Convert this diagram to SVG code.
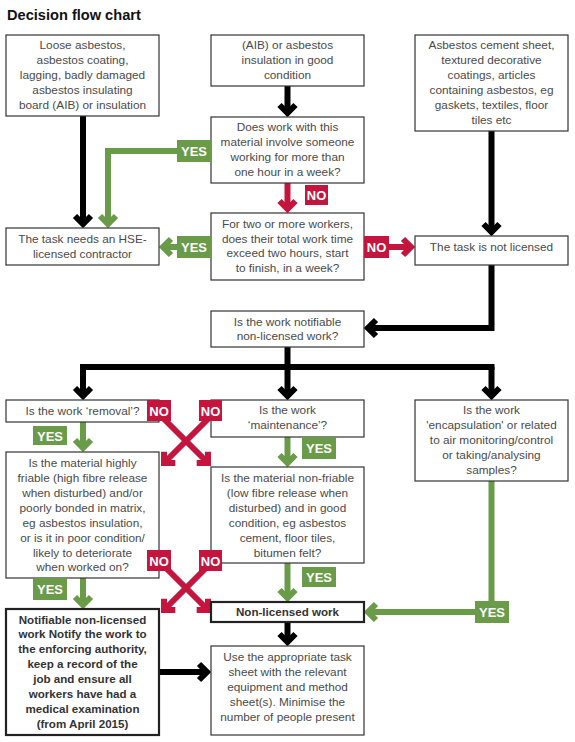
<svg xmlns="http://www.w3.org/2000/svg" width="575" height="742" viewBox="0 0 575 742">
<style>
.box{fill:#fff;stroke:#333;stroke-width:1.2}
.boxb{fill:#fff;stroke:#222;stroke-width:2.2}
.t{font-family:"Liberation Sans",Arial,sans-serif;font-size:11.8px;fill:#4a4a4a;text-anchor:middle}
.tb{font-family:"Liberation Sans",Arial,sans-serif;font-size:11.6px;font-weight:bold;fill:#333;text-anchor:middle}
.title{font-family:"Liberation Sans",Arial,sans-serif;font-size:14.6px;font-weight:bold;fill:#111}
.ck{fill:none;stroke:#000;stroke-width:6;stroke-linejoin:miter}
.cg{fill:none;stroke:#6a9b48;stroke-width:6;stroke-linejoin:miter}
.cr{fill:none;stroke:#c4153f;stroke-width:6;stroke-linejoin:miter}
.lg{fill:#6a9b48}
.lr{fill:#c4153f}
.lt{font-family:"Liberation Sans",Arial,sans-serif;font-size:13px;font-weight:bold;fill:#fff;text-anchor:middle}
</style>
<defs>
<marker id="ak" markerUnits="userSpaceOnUse" orient="auto" overflow="visible" viewBox="-12 -12 24 24" markerWidth="24" markerHeight="24" refX="0" refY="0"><path d="M-8,-8 L0,0 L-8,8" class="ck"/></marker>
<marker id="ag" markerUnits="userSpaceOnUse" orient="auto" overflow="visible" viewBox="-12 -12 24 24" markerWidth="24" markerHeight="24" refX="0" refY="0"><path d="M-8,-8 L0,0 L-8,8" class="cg"/></marker>
<marker id="ar" markerUnits="userSpaceOnUse" orient="auto" overflow="visible" viewBox="-12 -12 24 24" markerWidth="24" markerHeight="24" refX="0" refY="0"><path d="M-8,-8 L0,0 L-8,8" class="cr"/></marker>
</defs>
<rect width="575" height="742" fill="#fff"/>
<text class="title" x="7" y="20">Decision flow chart</text>

<g id="connectors">
<path class="ck" d="M83,116 V224" marker-end="url(#ak)"/>
<path class="ck" d="M287.5,86 V113" marker-end="url(#ak)"/>
<path class="ck" d="M491.5,131 V232" marker-end="url(#ak)"/>
<path class="ck" d="M491.5,265 V328 H368" marker-end="url(#ak)"/>
<path class="ck" d="M287.5,347 V367"/>
<path class="ck" d="M80,367 H494.5"/>
<path class="ck" d="M83,367 V396" marker-end="url(#ak)"/>
<path class="ck" d="M287.5,367 V396" marker-end="url(#ak)"/>
<path class="ck" d="M491.5,367 V396" marker-end="url(#ak)"/>
<path class="ck" d="M287.5,622 V642" marker-end="url(#ak)"/>
<path class="ck" d="M159,672 H207" marker-end="url(#ak)"/>

<path class="cg" d="M180,151 H108 V224" marker-end="url(#ag)"/>
<path class="cg" d="M180,247 H163" marker-end="url(#ag)"/>
<path class="cg" d="M83,422 V448" marker-end="url(#ag)"/>
<path class="cg" d="M287.5,437 V463" marker-end="url(#ag)"/>
<path class="cg" d="M83,578 V605" marker-end="url(#ag)"/>
<path class="cg" d="M287.5,563 V598" marker-end="url(#ag)"/>
<path class="cg" d="M491.5,481 V612 H368" marker-end="url(#ag)"/>

<path class="cr" d="M287.5,183 V209" marker-end="url(#ar)"/>
<path class="cr" d="M385,247 H411" marker-end="url(#ar)"/>
<path class="cr" d="M156,411 L208,463" marker-end="url(#ar)"/>
<path class="cr" d="M216,411 L164,463" marker-end="url(#ar)"/>
<path class="cr" d="M156,558 L208,610" marker-end="url(#ar)"/>
<path class="cr" d="M216,558 L164,610" marker-end="url(#ar)"/>
</g>

<g id="n1"><rect class="box" x="6" y="35" width="153" height="81"/>
<text class="t" x="82.5" y="49">Loose asbestos,</text><text class="t" x="82.5" y="64">asbestos coating,</text><text class="t" x="82.5" y="79">lagging, badly damaged</text><text class="t" x="82.5" y="94">asbestos insulating</text><text class="t" x="82.5" y="109">board (AIB) or insulation</text></g>

<g id="n2"><rect class="box" x="211" y="35" width="153" height="51"/>
<text class="t" x="287.5" y="49">(AIB) or asbestos</text><text class="t" x="287.5" y="64">insulation in good</text><text class="t" x="287.5" y="79">condition</text></g>

<g id="n3"><rect class="box" x="415" y="35" width="153" height="96"/>
<text class="t" x="491.5" y="49">Asbestos cement sheet,</text><text class="t" x="491.5" y="64">textured decorative</text><text class="t" x="491.5" y="79">coatings, articles</text><text class="t" x="491.5" y="94">containing asbestos, eg</text><text class="t" x="491.5" y="109">gaskets, textiles, floor</text><text class="t" x="491.5" y="124">tiles etc</text></g>

<g id="n4"><rect class="box" x="211" y="117" width="153" height="66"/>
<text class="t" x="287.5" y="131">Does work with this</text><text class="t" x="287.5" y="146">material involve someone</text><text class="t" x="287.5" y="161">working for more than</text><text class="t" x="287.5" y="176">one hour in a week?</text></g>

<g id="n5"><rect class="box" x="6" y="228" width="153" height="37"/>
<text class="t" x="82.5" y="243">The task needs an HSE-</text><text class="t" x="82.5" y="258">licensed contractor</text></g>

<g id="n6"><rect class="box" x="211" y="213" width="153" height="67"/>
<text class="t" x="287.5" y="228">For two or more workers,</text><text class="t" x="287.5" y="243">does their total work time</text><text class="t" x="287.5" y="257">exceed two hours, start</text><text class="t" x="287.5" y="272">to finish, in a week?</text></g>

<g id="n7"><rect class="box" x="415" y="236" width="153" height="29"/>
<text class="t" x="491.5" y="251">The task is not licensed</text></g>

<g id="n8"><rect class="box" x="211" y="311" width="153" height="36"/>
<text class="t" x="287.5" y="326">Is the work notifiable</text><text class="t" x="287.5" y="340">non-licensed work?</text></g>

<g id="n9"><rect class="box" x="6" y="400" width="153" height="22"/>
<text class="t" x="82.5" y="415">Is the work ‘removal’?</text></g>

<g id="n10"><rect class="box" x="211" y="400" width="153" height="37"/>
<text class="t" x="287.5" y="414">Is the work</text><text class="t" x="287.5" y="429">‘maintenance’?</text></g>

<g id="n11"><rect class="box" x="415" y="400" width="153" height="81"/>
<text class="t" x="491.5" y="414">Is the work</text><text class="t" x="491.5" y="429">'encapsulation' or related</text><text class="t" x="491.5" y="444">to air monitoring/control</text><text class="t" x="491.5" y="459">or taking/analysing</text><text class="t" x="491.5" y="474">samples?</text></g>

<g id="n12"><rect class="box" x="6" y="452" width="153" height="126"/>
<text class="t" x="82.5" y="467">Is the material highly</text><text class="t" x="82.5" y="482">friable (high fibre release</text><text class="t" x="82.5" y="497">when disturbed) and/or</text><text class="t" x="82.5" y="512">poorly bonded in matrix,</text><text class="t" x="82.5" y="527">eg asbestos insulation,</text><text class="t" x="82.5" y="542">or is it in poor condition/</text><text class="t" x="82.5" y="557">likely to deteriorate</text><text class="t" x="82.5" y="571">when worked on?</text></g>

<g id="n13"><rect class="box" x="211" y="467" width="153" height="96"/>
<text class="t" x="287.5" y="482">Is the material non-friable</text><text class="t" x="287.5" y="497">(low fibre release when</text><text class="t" x="287.5" y="512">disturbed) and in good</text><text class="t" x="287.5" y="527">condition, eg asbestos</text><text class="t" x="287.5" y="542">cement, floor tiles,</text><text class="t" x="287.5" y="557">bitumen felt?</text></g>

<g id="n14"><rect class="boxb" x="211" y="602" width="153" height="20"/>
<text class="tb" x="287.5" y="616">Non-licensed work</text></g>

<g id="n15"><rect class="boxb" x="6" y="609" width="153" height="126"/>
<text class="tb" x="82.5" y="624">Notifiable non-licensed</text><text class="tb" x="82.5" y="638">work Notify the work to</text><text class="tb" x="82.5" y="653">the enforcing authority,</text><text class="tb" x="82.5" y="668">keep a record of the</text><text class="tb" x="82.5" y="683">job and ensure all</text><text class="tb" x="82.5" y="698">workers have had a</text><text class="tb" x="82.5" y="713">medical examination</text><text class="tb" x="82.5" y="728">(from April 2015)</text></g>

<g id="n16"><rect class="box" x="211" y="646" width="153" height="89"/>
<text class="t" x="287.5" y="661">Use the appropriate task</text><text class="t" x="287.5" y="676">sheet with the relevant</text><text class="t" x="287.5" y="691">equipment and method</text><text class="t" x="287.5" y="706">sheet(s). Minimise the</text><text class="t" x="287.5" y="721">number of people present</text></g>

<g id="labels">
<rect class="lg" x="177" y="140" width="34" height="22"/><text class="lt" x="194" y="156">YES</text>
<rect class="lr" x="305" y="185" width="23" height="20"/><text class="lt" x="316.5" y="200">NO</text>
<rect class="lg" x="177" y="236" width="34" height="22"/><text class="lt" x="194" y="252">YES</text>
<rect class="lr" x="364" y="236" width="25" height="22"/><text class="lt" x="376.5" y="252">NO</text>
<rect class="lr" x="147" y="400" width="24" height="21"/><text class="lt" x="159" y="415.5">NO</text>
<rect class="lr" x="199" y="400" width="23" height="21"/><text class="lt" x="210.5" y="415.5">NO</text>
<rect class="lg" x="33" y="426" width="34" height="19"/><text class="lt" x="50" y="440.5">YES</text>
<rect class="lg" x="302" y="437" width="34" height="22"/><text class="lt" x="319" y="453">YES</text>
<rect class="lr" x="147" y="550" width="24" height="21"/><text class="lt" x="159" y="565.5">NO</text>
<rect class="lr" x="199" y="550" width="23" height="21"/><text class="lt" x="210.5" y="565.5">NO</text>
<rect class="lg" x="33" y="578" width="34" height="22"/><text class="lt" x="50" y="594">YES</text>
<rect class="lg" x="302" y="567" width="34" height="20"/><text class="lt" x="319" y="582">YES</text>
<rect class="lg" x="475" y="601" width="34" height="22"/><text class="lt" x="492" y="617">YES</text>
</g>
</svg>
